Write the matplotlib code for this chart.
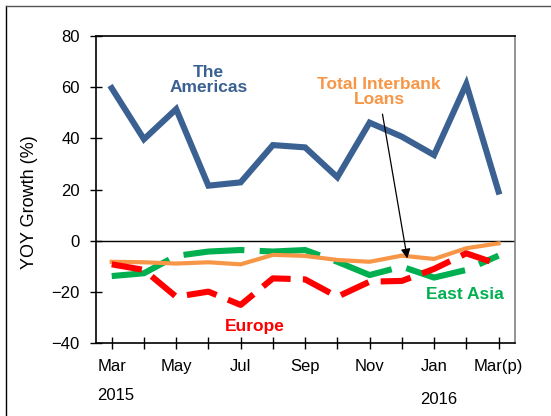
import matplotlib
matplotlib.use("Agg")
import matplotlib.pyplot as plt
from matplotlib.lines import Line2D


plt.rcParams["font.family"] = ["Liberation Sans", "DejaVu Sans"]

MONTHS = ["Mar", "Apr", "May", "Jun", "Jul", "Aug", "Sep",
          "Oct", "Nov", "Dec", "Jan", "Feb", "Mar(p)"]
TICK_LABELS = ["Mar", "", "May", "", "Jul", "", "Sep", "", "Nov", "", "Jan", "", "Mar(p)"]
YEAR_LABELS = [("2015", 0.13, -0.171), ("2016", 10.15, -0.187)]

americas = [59.7, 39.7, 51.5, 21.5, 22.8, 37.4, 36.5, 24.8, 46.2, 40.7, 33.5, 61.3, 19.2]
europe = [-9.3, -11.5, -22.0, -20.0, -25.2, -14.8, -15.2, -22.0, -16.1, -15.8, -11.1, -5.0, -9.3]
east_asia = [-13.9, -12.8, -6.0, -4.3, -3.7, -4.3, -3.7, -8.3, -13.5, -10.2, -14.5, -11.5, -5.9]
total_loans = [-8.3, -8.5, -9.0, -8.5, -9.3, -5.6, -6.0, -7.6, -8.3, -5.9, -7.2, -3.0, -1.1]

BLUE = "#3A6192"
RED = "#FF0000"
GREEN = "#00B050"
ORANGE = "#F79646"


def main() -> None:
    fig = plt.figure(figsize=(5.51, 4.16), dpi=100)
    ax = fig.add_axes([0.1735, 0.1762, 0.934 - 0.1735, 0.9127 - 0.1762])

    x = list(range(len(MONTHS)))
    ax.axhline(0, color="black", linewidth=1.0, zorder=1)

    ax.plot(x, east_asia, color=GREEN, linewidth=4.4, dashes=(10, 2.5),
            dash_capstyle="butt", solid_joinstyle="miter", zorder=2)
    ax.plot(x, total_loans, color=ORANGE, linewidth=3.0, solid_joinstyle="miter", zorder=3)
    ax.plot(x, europe, color=RED, linewidth=4.4, dashes=(5, 2),
            dash_capstyle="butt", zorder=4)
    ax.plot(x, americas, color=BLUE, linewidth=4.4, solid_joinstyle="miter", zorder=5)

    ax.set_xlim(-0.5, 12.5)
    ax.set_ylim(-40, 80)
    ax.set_yticks(range(-40, 81, 20))
    ax.set_xticks(x, TICK_LABELS)
    ax.tick_params(axis="both", direction="inout", length=9, width=1.0, labelsize=12)
    ax.tick_params(axis="x", pad=7)
    ax.tick_params(axis="y", pad=7)
    ax.set_ylabel("YOY Growth (%)", fontsize=13)
    ax.yaxis.set_label_coords(-0.137, 0.46)

    for sp in ["left", "bottom", "top"]:
        ax.spines[sp].set_color("black")
        ax.spines[sp].set_linewidth(1.2)
    ax.spines["right"].set_color("#808080")
    ax.spines["right"].set_linewidth(1.2)

    for text, xpos, ypos in YEAR_LABELS:
        ax.text(xpos, ypos, text, transform=ax.get_xaxis_transform(),
                ha="center", va="center", fontsize=12)

    ax.text(3.0, 63, "The\nAmericas", color=BLUE, fontsize=12.5, fontweight="bold",
            ha="center", va="center", linespacing=1.0)
    ax.text(8.3, 58, "Total Interbank\nLoans", color=ORANGE, fontsize=12.5, fontweight="bold",
            ha="center", va="center", linespacing=1.0)
    ax.text(4.45, -33.5, "Europe", color=RED, fontsize=12.5, fontweight="bold",
            ha="center", va="center")
    ax.text(10.95, -21, "East Asia", color=GREEN, fontsize=12.5, fontweight="bold",
            ha="center", va="center")

    ax.annotate("", xy=(9.17, -7.0), xytext=(8.4, 49.5),
                arrowprops=dict(arrowstyle="-|>", color="black", linewidth=0.9,
                                mutation_scale=14, shrinkA=0, shrinkB=0),
                zorder=6)

    # outer frame of the figure (top and left edges)
    fig.add_artist(Line2D([6 / 551, 6 / 551], [0, 1 - 6 / 416], transform=fig.transFigure,
                          color="black", linewidth=1.0))
    fig.add_artist(Line2D([6 / 551, 1], [1 - 6 / 416, 1 - 6 / 416], transform=fig.transFigure,
                          color="#555555", linewidth=1.0))

    fig.savefig("out.png", dpi=100)
    plt.close(fig)


if __name__ == "__main__":
    main()
